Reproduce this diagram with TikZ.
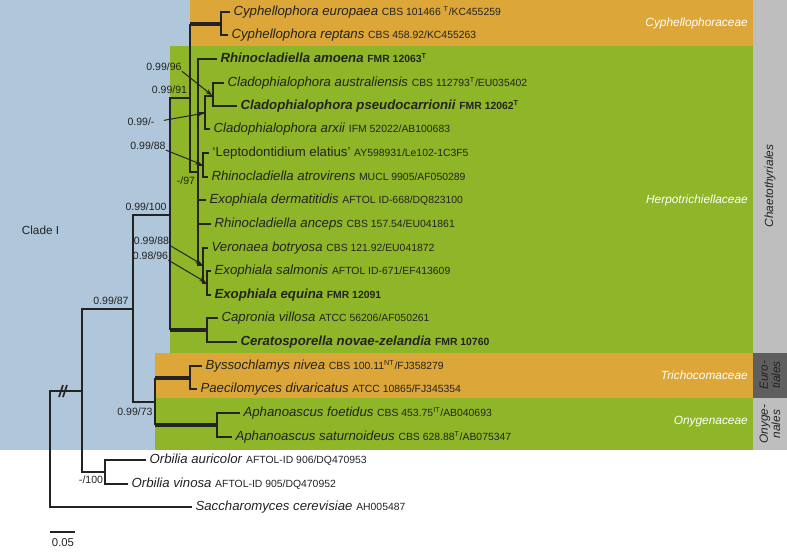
\documentclass[tikz,border=0pt]{standalone}
\usepackage{fontspec}
\setmainfont{Liberation Sans}
\usepackage{xcolor}
\usetikzlibrary{arrows.meta,calc}

\definecolor{cladeblue}{RGB}{176,198,218}
\definecolor{famorange}{RGB}{220,166,56}
\definecolor{famgreen}{RGB}{142,182,40}
\definecolor{ordgray}{RGB}{190,190,190}
\definecolor{orddark}{RGB}{95,95,95}
\definecolor{ink}{RGB}{35,35,35}

\newcommand{\acc}[1]{{\fontsize{7.8}{9}\selectfont #1}}
\newcommand{\typ}[1]{\textsuperscript{#1}}

\begin{document}
\begin{tikzpicture}[x=0.75pt, y=-0.75pt, >={Stealth[length=5pt,width=3.6pt]}]
    \tikzset{
        taxon/.style={anchor=west, inner xsep=2.5pt, inner ysep=0pt, text height=7pt, text depth=2pt, font=\fontsize{9.9}{11}\selectfont, text=ink},
        support/.style={inner sep=0pt, font=\fontsize{7.9}{9}\selectfont, text=ink},
        family/.style={anchor=east, inner sep=0pt, font=\fontsize{8.9}{10}\selectfont\itshape, text=white},
        order/.style={rotate=90, inner sep=0pt, align=center, font=\fontsize{8.9}{9.2}\selectfont\itshape, text=ink},
        branch/.style={draw=ink, line width=1.05pt},
        stem/.style={draw=ink, line width=2.3pt},
        pointer/.style={draw=ink, ->, line width=0.75pt, shorten >=1pt}
    }
    \useasboundingbox (0,0) rectangle (787,551);
    % shaded clades
    \fill[cladeblue] (0,0) rectangle (753,450);
    \fill[famorange] (190,0) rectangle (753,46);
    \fill[famgreen] (170,46) rectangle (753,353);
    \fill[famorange] (155,353) rectangle (753,398);
    \fill[famgreen] (155,398) rectangle (753,450);
    \fill[ordgray] (753,0) rectangle (787,353);
    \fill[orddark] (753,353) rectangle (787,398);
    \fill[ordgray] (753,398) rectangle (787,450);

    % internal nodes
    \coordinate (root) at (50,449);
    \coordinate (ingroup) at (82,391);
    \coordinate (clade1) at (133,309);
    \coordinate (chaet) at (170,215);
    \coordinate (cyphherp) at (190,98);
    \coordinate (cyph) at (221,24);
    \coordinate (herp) at (198,172);
    \coordinate (clado) at (205,113);
    \coordinate (cladoB) at (213,96);
    \coordinate (lepto) at (203,165);
    \coordinate (exo) at (203,265);
    \coordinate (exoB) at (207,283);
    \coordinate (capr) at (207,330);
    \coordinate (euony) at (155,402);
    \coordinate (trich) at (190,378);
    \coordinate (onyg) at (217,425);
    \coordinate (orbil) at (105,472);

    % taxa
    \node[taxon] (eur) at (230,12) {\textit{Cyphellophora europaea} \acc{CBS 101466 \typ{T}/KC455259}};
    \node[taxon] (rep) at (228,35) {\textit{Cyphellophora reptans} \acc{CBS 458.92/KC455263}};
    \node[taxon] (amo) at (217,59) {\bfseries\textit{Rhinocladiella amoena} \acc{FMR 12063\typ{T}}};
    \node[taxon] (aus) at (224,83) {\textit{Cladophialophora australiensis} \acc{CBS 112793\typ{T}/EU035402}};
    \node[taxon] (pse) at (237,106) {\bfseries\textit{Cladophialophora pseudocarrionii} \acc{FMR 12062\typ{T}}};
    \node[taxon] (arx) at (210,129) {\textit{Cladophialophora arxii} \acc{IFM 52022/AB100683}};
    \node[taxon] (lep) at (209,153) {`Leptodontidium elatius' \acc{AY598931/Le102-1C3F5}};
    \node[taxon] (atr) at (208,177) {\textit{Rhinocladiella atrovirens} \acc{MUCL 9905/AF050289}};
    \node[taxon] (der) at (206,200) {\textit{Exophiala dermatitidis} \acc{AFTOL ID-668/DQ823100}};
    \node[taxon] (anc) at (211,224) {\textit{Rhinocladiella anceps} \acc{CBS 157.54/EU041861}};
    \node[taxon] (ver) at (208,248) {\textit{Veronaea botryosa} \acc{CBS 121.92/EU041872}};
    \node[taxon] (sal) at (211,271) {\textit{Exophiala salmonis} \acc{AFTOL ID-671/EF413609}};
    \node[taxon] (equ) at (211,295) {\bfseries\textit{Exophiala equina} \acc{FMR 12091}};
    \node[taxon] (vil) at (218,318) {\textit{Capronia villosa} \acc{ATCC 56206/AF050261}};
    \node[taxon] (cer) at (237,342) {\bfseries\textit{Ceratosporella novae-zelandia} \acc{FMR 10760}};
    \node[taxon] (niv) at (202,366) {\textit{Byssochlamys nivea} \acc{CBS 100.11\typ{NT}/FJ358279}};
    \node[taxon] (div) at (197,389) {\textit{Paecilomyces divaricatus} \acc{ATCC 10865/FJ345354}};
    \node[taxon] (foe) at (240,413) {\textit{Aphanoascus foetidus} \acc{CBS 453.75\typ{IT}/AB040693}};
    \node[taxon] (sat) at (232,437) {\textit{Aphanoascus saturnoideus} \acc{CBS 628.88\typ{T}/AB075347}};
    \node[taxon] (aur) at (146,460) {\textit{Orbilia auricolor} \acc{AFTOL-ID 906/DQ470953}};
    \node[taxon] (vin) at (128,484) {\textit{Orbilia vinosa} \acc{AFTOL-ID 905/DQ470952}};
    \node[taxon] (sac) at (192,507) {\textit{Saccharomyces cerevisiae} \acc{AH005487}};

    % branches
    \draw[branch] (root) |- (ingroup);
    \draw[branch] (root) |- (sac.west);
    \draw[branch] (ingroup) |- (clade1);
    \draw[branch] (ingroup) |- (orbil);
    \draw[branch] (orbil) |- (aur.west);
    \draw[branch] (orbil) |- (vin.west);
    \draw[branch] (clade1) |- (chaet);
    \draw[branch] (clade1) |- (euony);
    \draw[branch] (chaet) |- (cyphherp);
    \draw[branch] (chaet) -- (chaet |- capr);
    \draw[stem] (chaet |- capr) -- (capr);
    \draw[branch] (cyphherp) -- (cyphherp |- cyph);
    \draw[stem] (cyphherp |- cyph) -- (cyph);
    \draw[branch] (cyphherp) |- (herp);
    \draw[branch] (cyph) |- (eur.west);
    \draw[branch] (cyph) |- (rep.west);
    \draw[branch] (herp) |- (amo.west);
    \draw[branch] (herp) |- (clado);
    \draw[branch] (herp) |- (lepto);
    \draw[branch] (herp) |- (der.west);
    \draw[branch] (herp) |- (anc.west);
    \draw[branch] (herp) |- (exo);
    \draw[branch] (clado) |- (cladoB);
    \draw[branch] (clado) |- (arx.west);
    \draw[branch] (cladoB) |- (aus.west);
    \draw[branch] (cladoB) |- (pse.west);
    \draw[branch] (lepto) |- (lep.west);
    \draw[branch] (lepto) |- (atr.west);
    \draw[branch] (exo) |- (ver.west);
    \draw[branch] (exo) |- (exoB);
    \draw[branch] (exoB) |- (sal.west);
    \draw[branch] (exoB) |- (equ.west);
    \draw[branch] (capr) |- (vil.west);
    \draw[branch] (capr) |- (cer.west);
    \draw[branch] (euony) -- (euony |- trich);
    \draw[stem] (euony |- trich) -- (trich);
    \draw[branch] (euony) -- (euony |- onyg);
    \draw[stem] (euony |- onyg) -- (onyg);
    \draw[branch] (trich) |- (niv.west);
    \draw[branch] (trich) |- (div.west);
    \draw[branch] (onyg) |- (foe.west);
    \draw[branch] (onyg) |- (sat.west);

    % break on the outgroup branch
    \coordinate (brk) at (63,391);
    \draw[ink, line width=1.2pt] ($(brk)+(-4,6)$) -- ++(4,-12);
    \draw[ink, line width=1.2pt] ($(brk)+(0,6)$) -- ++(4,-12);

    % support values
    \node[support] (s96) at (164,67) {0.99/96};
    \node[support] (s91) at (169.5,90) {0.99/91};
    \node[support] (s99) at (141,122) {0.99/-};
    \node[support] (s88a) at (148,146) {0.99/88};
    \node[support] (s97) at (186,181) {-/97};
    \node[support] (s100) at (146,207) {0.99/100};
    \node[support] (s88b) at (151.5,241) {0.99/88};
    \node[support] (s98) at (150.5,256) {0.98/96};
    \node[support] (s87) at (111,301) {0.99/87};
    \node[support] (s73) at (135,412) {0.99/73};
    \node[support] (s100b) at (91,480) {-/100};
    \node[support, font=\fontsize{8.8}{10}\selectfont] (cladeI) at (40.5,230) {Clade I};

    \draw[pointer] (s96.south east) -- (cladoB);
    \draw[pointer, shorten <=7pt] (s99.east) -- (clado);
    \draw[pointer] (s88a.south east) -- (lepto);
    \draw[pointer] (s88b.south east) -- (exo);
    \draw[pointer] (s98.south east) -- (exoB);

    % families and orders
    \node[family] (famcyph) at (748,23) {Cyphellophoraceae};
    \node[family] (famherp) at (748,200) {Herpotrichiellaceae};
    \node[family] (famtrich) at (748,375) {Trichocomaceae};
    \node[family] (famony) at (748,422) {Onygenaceae};
    \node[order] (ordchaet) at (770,186) {Chaetothyriales};
    \node[order] (ordeuro) at (770,375) {Euro-\\tiales};
    \node[order] (ordony) at (770,424) {Onyge-\\nales};

    % scale bar
    \coordinate (bar0) at (50,532);
    \coordinate (bar1) at (75,532);
    \draw[branch] (bar0) -- (bar1);
    \node[support, font=\fontsize{8.5}{10}\selectfont] (barlabel) at (63,543) {0.05};
\end{tikzpicture}
\end{document}
